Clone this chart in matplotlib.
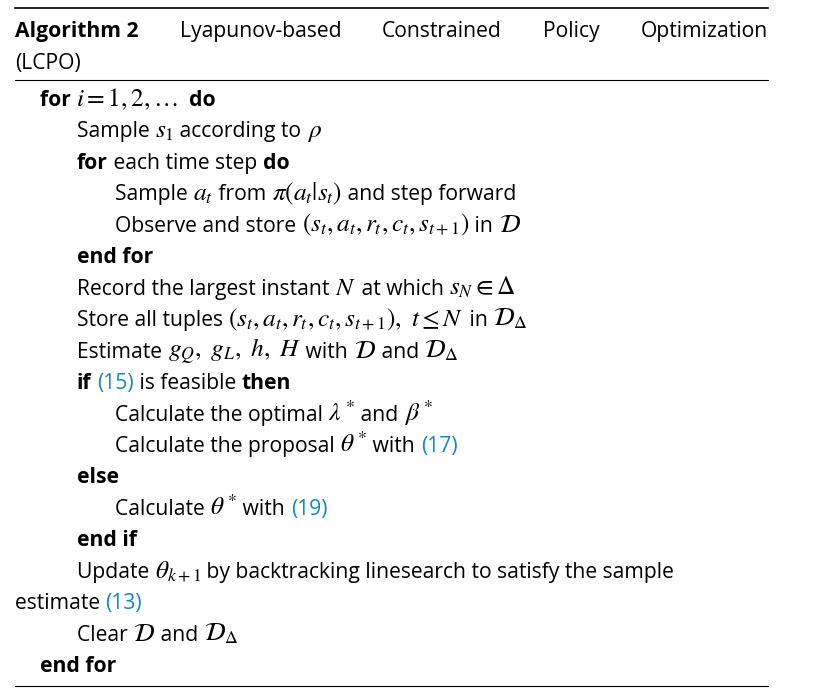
import matplotlib
matplotlib.use("Agg")
import matplotlib.pyplot as plt

plt.rcParams['font.family'] = ['Open Sans', 'DejaVu Sans']
plt.rcParams['mathtext.fontset'] = 'stix'

LINK = '#1a86b8'

title_words = [("Algorithm 2", "b"), ("Lyapunov-based", "n"), ("Constrained", "n"),
               ("Policy", "n"), ("Optimization", "n")]
title_line2 = "(LCPO)"

# each line: indent level, list of (text, style) where style is n=normal, b=bold, l=link, m=math
lines = [
    (1, [("for ", "b"), (r"$i = 1, 2, \ldots$", "m"), ("  do", "b")]),
    (2, [("Sample ", "n"), (r"$s_1$", "m"), (" according to ", "n"), (r"$\rho$", "m")]),
    (2, [("for", "b"), (" each time step ", "n"), ("do", "b")]),
    (3, [("Sample ", "n"), (r"$a_t$", "m"), (" from ", "n"), (r"$\pi(a_t|s_t)$", "m"), (" and step forward", "n")]),
    (3, [("Observe and store ", "n"), (r"$(s_t, a_t, r_t, c_t, s_{t+1})$", "m"), (" in ", "n"), (r"$\mathcal{D}$", "m")]),
    (2, [("end for", "b")]),
    (2, [("Record the largest instant ", "n"), (r"$N$", "m"), (" at which ", "n"), (r"$s_N \in \mathit{\Delta}$", "m")]),
    (2, [("Store all tuples ", "n"), (r"$(s_t, a_t, r_t, c_t, s_{t+1}),\ t \leq N$", "m"), (" in ", "n"), (r"$\mathcal{D}_{\mathit{\Delta}}$", "m")]),
    (2, [("Estimate ", "n"), (r"$g_Q,\ g_L,\ h,\ H$", "m"), (" with ", "n"), (r"$\mathcal{D}$", "m"), (" and ", "n"), (r"$\mathcal{D}_{\mathit{\Delta}}$", "m")]),
    (2, [("if", "b"), (" ", "n"), ("(15)", "l"), (" is feasible ", "n"), ("then", "b")]),
    (3, [("Calculate the optimal ", "n"), (r"$\lambda^*$", "m"), (" and ", "n"), (r"$\beta^*$", "m")]),
    (3, [("Calculate the proposal ", "n"), (r"$\theta^*$", "m"), (" with ", "n"), ("(17)", "l")]),
    (2, [("else", "b")]),
    (3, [("Calculate ", "n"), (r"$\theta^*$", "m"), (" with ", "n"), ("(19)", "l")]),
    (2, [("end if", "b")]),
    (2, [("Update ", "n"), (r"$\theta_{k+1}$", "m"), (" by backtracking linesearch to satisfy the sample", "n")]),
    (0, [("estimate ", "n"), ("(13)", "l")]),
    (2, [("Clear ", "n"), (r"$\mathcal{D}$", "m"), (" and ", "n"), (r"$\mathcal{D}_{\mathit{\Delta}}$", "m")]),
    (1, [("end for", "b")]),
]

W, H = 814, 691
fig = plt.figure(figsize=(W / 100, H / 100), dpi=100)
ax = fig.add_axes([0, 0, 1, 1])
ax.set_xlim(0, W)
ax.set_ylim(H, 0)
ax.axis('off')
fig.canvas.draw()
renderer = fig.canvas.get_renderer()
FS = 15.2


def put(x, y, s, style):
    kw = dict(fontsize=FS, va='baseline', ha='left', color='black')
    if style == 'b':
        kw['fontweight'] = 'bold'
    if style == 'l':
        kw['color'] = LINK
    if style == 'm':
        kw['fontsize'] = FS * 1.2
    t = ax.text(x, y, s, **kw)
    bb = t.get_window_extent(renderer)
    return x + bb.width, t


# rules
ax.plot([15, 768], [8, 8], color='black', lw=1.2)
ax.plot([15, 768], [80, 80], color='black', lw=0.8)
ax.plot([15, 768], [686, 686], color='black', lw=0.8)

# justified title line
widths = []
texts = []
for s, st in title_words:
    _, t = put(0, 37, s, st)
    texts.append(t)
    widths.append(t.get_window_extent(renderer).width)
gap = (768 - 15 - sum(widths)) / (len(widths) - 1)
x = 15
for t, w in zip(texts, widths):
    t.set_x(x)
    x += w + gap
put(15, 69, title_line2, 'n')

indents = {0: 15, 1: 40, 2: 77, 3: 115}
y0, dy = 106, 31.45
for i, (lvl, segs) in enumerate(lines):
    x = indents[lvl]
    y = y0 + i * dy
    for s, st in segs:
        x, _ = put(x, y, s, st)

fig.savefig('out.png', dpi=100)
